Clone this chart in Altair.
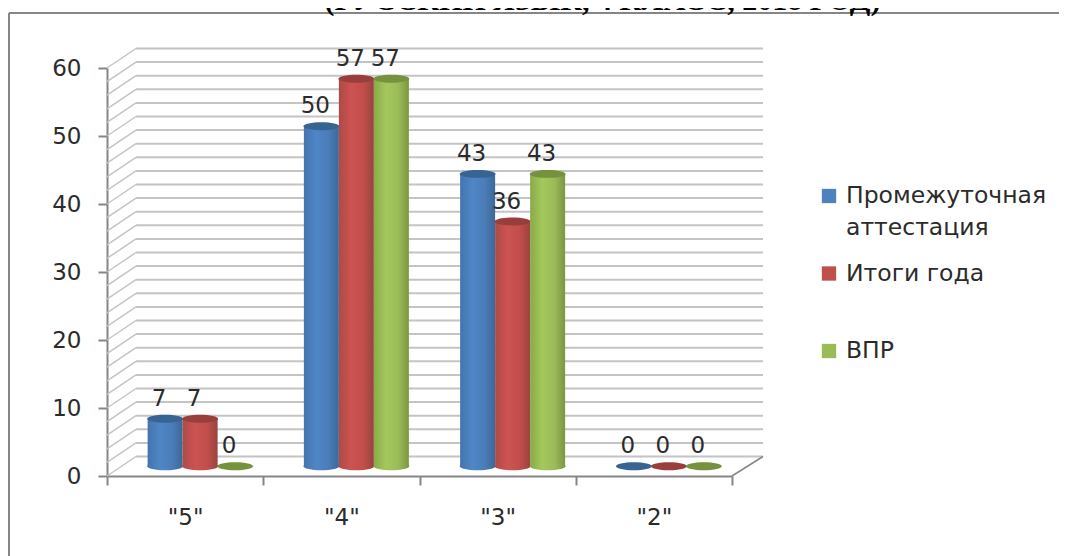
import altair as alt
import pandas as pd

categories = ['"5"', '"4"', '"3"', '"2"']
series = ["Промежуточная аттестация", "Итоги года", "ВПР"]
legend_labels = ["Промежуточная\nаттестация", "Итоги года", "ВПР"]
v_blue = [7, 50, 43, 0]
v_red = [7, 57, 36, 0]
v_green = [0, 57, 43, 0]
y_ticks = [0, 10, 20, 30, 40, 50, 60]
grid_values = list(range(0, 62, 2))
title_text = "(РУССКИЙ ЯЗЫК, 4 КЛАСС,  2018 ГОД)"

body_colors = [
    ["#4474ad", "#4f86c6", "#4a7db9", "#3c6897"],
    ["#ad4a48", "#cc5351", "#c24e4b", "#99433f"],
    ["#88aa4a", "#a4c85c", "#9bbb59", "#7a963f"],
]
cap_colors = ["#386494", "#983f3d", "#76923c"]
legend_colors = ["#4f81bd", "#c0504d", "#9bbb59"]

FONT = "DejaVu Sans"
AXC = "#868686"
GRID = "#c4c4c4"
TXT = "#2b2b2b"

W, H = 625, 408
PX_X = 4 / W            # category units per pixel
PX_Y = 60 / H           # value units per pixel
BAR_W = 35 * PX_X
SHIFT = 15 * PX_X
BASE = 9.7 * PX_Y
wall_l, wall_r = 29 * PX_X, 31 * PX_X
wall_y = 19.5 * PX_Y

xs = alt.Scale(domain=[0, 4], range=[0, W], nice=False, zero=False)
ys = alt.Scale(domain=[0, 60], range=[H, 0], nice=False, zero=False)


def X(f):
    return alt.X(f, type="quantitative", scale=xs, axis=None, title=None)


def Y(f):
    return alt.Y(f, type="quantitative", scale=ys, axis=None, title=None)


rows = []
for s, vals in enumerate([v_blue, v_red, v_green]):
    for c, v in enumerate(vals):
        cx = c + 0.5 + SHIFT + (s - 1) * BAR_W
        rows.append(dict(series=s, cat=categories[c], value=v, label=str(v), cx=cx,
                         x0=cx - BAR_W / 2, x1=cx + BAR_W / 2, base=BASE, top=v + BASE,
                         lx=cx - 6 * PX_X, ly=v + BASE + 20 * PX_Y))
df = pd.DataFrame(rows)

grid = pd.DataFrame({"g": grid_values})
grid["gb"] = grid["g"] + wall_y
grid["xl"] = wall_l
grid["xr"] = 4 + wall_r
grid["x0"] = 0.0

# back wall and left wall
wall = alt.Chart(grid).mark_rule(color=GRID, strokeWidth=2).encode(x=X("xl"), x2="xr", y=Y("gb"))
side = alt.Chart(grid).mark_rule(color=GRID, strokeWidth=1.5).encode(x=X("x0"), x2="xl", y=Y("g"), y2="gb")

floor_df = pd.DataFrame({"x": [4], "x2": [4 + wall_r], "y": [0], "y2": [wall_y]})
floor = alt.Chart(floor_df).mark_rule(color=AXC, strokeWidth=1.5).encode(x=X("x"), x2="x2", y=Y("y"), y2="y2")

# axes
axis_df = pd.DataFrame({"cat": categories, "v": [0, 0, 0, 0]})
axes = alt.Chart(axis_df).mark_point(opacity=0).encode(
    x=alt.X("cat:N", sort=categories, title=None,
            scale=alt.Scale(domain=categories, paddingInner=0, paddingOuter=0),
            axis=alt.Axis(tickBand="extent", grid=False, labelAngle=0, labelFont=FONT, labelFontSize=23,
                          labelColor=TXT, labelPadding=21, tickSize=9, tickWidth=2, tickColor=AXC,
                          domainColor=AXC, domainWidth=2)),
    y=alt.Y("v:Q", title=None, scale=ys,
            axis=alt.Axis(values=y_ticks, grid=False, labelFont=FONT, labelFontSize=23, labelColor=TXT,
                          labelPadding=17, tickSize=9, tickWidth=2, tickColor=AXC,
                          domainColor=AXC, domainWidth=2)),
)

# cylinders
ELLIPSE = "M-1,0A1,0.22,0,1,0,1,0A1,0.22,0,1,0,-1,0Z"
ESIZE = 36 ** 2
cyl = []
for s in range(3):
    d = df[df.series == s]
    st = [{"offset": o, "color": c} for o, c in zip([0, 0.35, 0.7, 1], body_colors[s])]
    grad = {"gradient": "linear", "x1": 0, "y1": 0, "x2": 1, "y2": 0, "stops": st}
    bars = d[d.value > 0]
    cyl.append(alt.Chart(bars).mark_bar(fill=grad, stroke=None).encode(
        x=X("x0"), x2="x1", y=Y("top"), y2="base"))
    cyl.append(alt.Chart(bars).mark_point(shape=ELLIPSE, size=ESIZE, filled=True, fill=grad, stroke=None, opacity=1).encode(
        x=X("cx"), y=Y("base")))
    cyl.append(alt.Chart(d).mark_point(shape=ELLIPSE, size=ESIZE, filled=True, fill=cap_colors[s], stroke=None, opacity=1).encode(
        x=X("cx"), y=Y("top")))

labels = alt.Chart(df).mark_text(font=FONT, fontSize=23, color=TXT, baseline="middle", align="center").encode(
    x=X("lx"), y=Y("ly"), text="label:N")

# legend
leg = pd.DataFrame({"name": series, "label": legend_labels, "color": legend_colors})
leg_y = alt.Y("name:N", sort=series, title=None, axis=None,
              scale=alt.Scale(type="point", domain=series, range=[128, 283], padding=0))
leg_sq = alt.Chart(leg).mark_square(size=205, opacity=1).encode(
    x=alt.value(722), y=leg_y, color=alt.Color("color:N", scale=None, legend=None))
leg_tx = alt.Chart(leg).mark_text(font=FONT, fontSize=23.5, color=TXT, align="left", baseline="alphabetic",
                                  dy=7, lineBreak="\n", lineHeight=32).encode(
    x=alt.value(739), y=leg_y, text="label:N")

# frame and heading
frame_top = alt.Chart(pd.DataFrame({"a": [0]})).mark_rule(color=AXC, strokeWidth=2).encode(
    x=alt.value(-98), x2=alt.value(960), y=alt.value(-55))
frame_left = alt.Chart(pd.DataFrame({"a": [0]})).mark_rule(color=AXC, strokeWidth=2).encode(
    x=alt.value(-98), y=alt.value(-55), y2=alt.value(488))
heading = alt.Chart(pd.DataFrame({"t": [title_text]})).mark_text(
    font="Liberation Serif", fontSize=30, fontWeight="bold", color="#000000", align="center", baseline="alphabetic"
).encode(x=alt.value(495.5), y=alt.value(-58), text="t:N")

chart = alt.layer(
    frame_top, frame_left, heading, wall, side, floor, axes, *cyl, labels, leg_sq, leg_tx
).resolve_scale(x="independent", y="independent", color="independent").properties(
    width=W, height=H, padding={"left": 99, "top": 60, "right": 327, "bottom": 80},
    autosize=alt.AutoSizeParams(type="none"), background="white",
).configure_view(stroke=None)

chart.save("out.html", embed_options={"renderer": "svg", "actions": False})
